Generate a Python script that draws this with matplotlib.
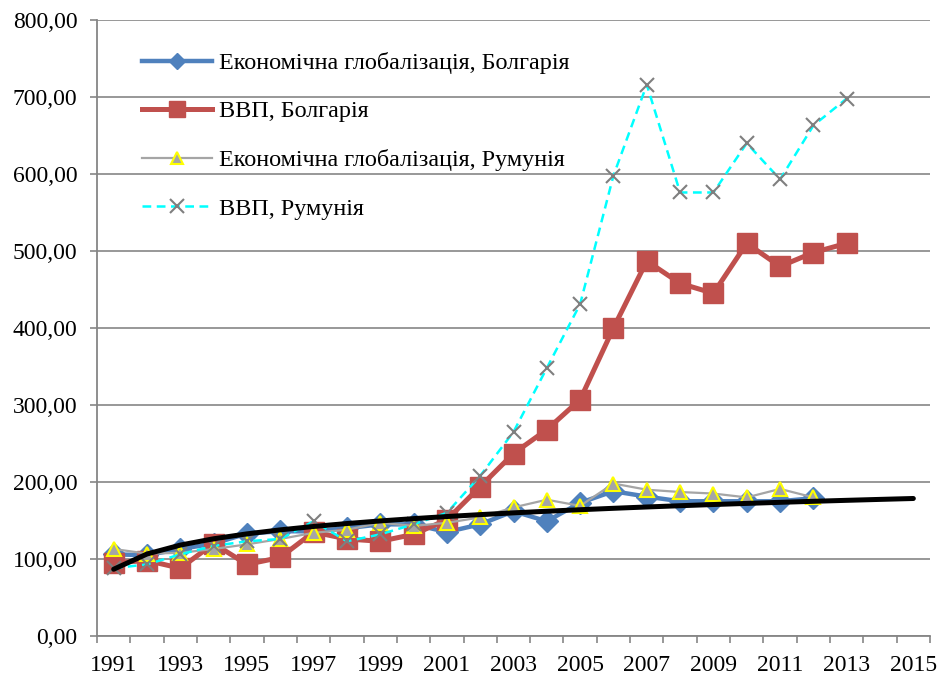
import numpy as np
import matplotlib
matplotlib.use("Agg")
import matplotlib.pyplot as plt
from matplotlib.lines import Line2D
from matplotlib.ticker import FuncFormatter, MultipleLocator, FixedLocator

plt.rcParams['font.family'] = ['Liberation Serif', 'DejaVu Serif']

years_gdp = list(range(1991, 2014))
years_glob = list(range(1991, 2013))
years_trend = list(range(1991, 2016))

bg_glob = [106, 105, 113, 120, 133, 136, 136, 140, 145, 145, 135, 145, 162, 149,
           173, 188, 181, 175, 175, 175, 175, 179]
bg_gdp = [95, 98, 88, 120, 93, 102, 135, 126, 123, 132, 151, 194, 237, 268,
          307, 400, 487, 458, 445, 510, 480, 498, 510]
ro_glob = [113, 107, 108, 113, 119, 126, 134, 138, 147, 143, 147, 154, 167, 177,
           169, 198, 190, 187, 185, 180, 191, 180]
ro_gdp = [88, 93, 106, 117, 123, 126, 149, 123, 132, 145, 160, 208, 265, 348,
          431, 598, 716, 576, 576, 640, 593, 663, 698]

labels = ["Економічна глобалізація, Болгарія", "ВВП, Болгарія",
          "Економічна глобалізація, Румунія", "ВВП, Румунія"]

C_BLUE = '#4f81bd'
C_RED = '#c0504d'
C_GRAY = '#a5a5a5'
C_CYAN = '#00ffff'
C_AX = '#868686'

fig = plt.figure(figsize=(9.39, 6.76), dpi=100)
ax = fig.add_axes([97/939, 1 - 636/676, (930-97)/939, (636-20)/676])

ax.plot(years_glob, bg_glob, color=C_BLUE, lw=3.2, marker='D', ms=11,
        mfc=C_BLUE, mec=C_BLUE, zorder=3)
ax.plot(years_gdp, bg_gdp, color=C_RED, lw=3.6, marker='s', ms=14,
        mfc=C_RED, mec=C_RED, zorder=4)
ax.plot(years_glob, ro_glob, color=C_GRAY, lw=1.6, marker='^', ms=10,
        mfc=C_GRAY, mec='#ffff00', mew=1.5, zorder=5)
ax.plot(years_gdp, ro_gdp, color=C_CYAN, lw=1.8, ls=(0, (3.5, 2.2)), marker='x', ms=10,
        mec='#7f7f7f', mew=1.5, zorder=6)

# logarithmic trendline fitted to Bulgaria economic globalization
t_fit = np.arange(1, len(bg_glob) + 1)
b, a = np.polyfit(np.log(t_fit), np.array(bg_glob, float), 1)
t_tr = np.arange(1, len(years_trend) + 1)
ax.plot(years_trend, a + b * np.log(t_tr), color='black', lw=3.6,
        solid_capstyle='round', zorder=7)

ax.set_xlim(1990.5, 2015.5)
ax.set_ylim(0, 800)
ax.yaxis.set_major_locator(MultipleLocator(100))
ax.yaxis.set_major_formatter(FuncFormatter(lambda v, p: f"{v:.2f}".replace('.', ',')))
ax.xaxis.set_major_locator(FixedLocator(list(range(1991, 2016, 2))))
ax.xaxis.set_minor_locator(FixedLocator([y + 0.5 for y in range(1990, 2016)]))
ax.xaxis.set_major_formatter(FuncFormatter(lambda v, p: f"{int(round(v))}"))

ax.grid(axis='y', color=C_AX, lw=1.2, zorder=0)
ax.set_axisbelow(True)
for s in ['top', 'right']:
    ax.spines[s].set_visible(False)
for s in ['left', 'bottom']:
    ax.spines[s].set_color(C_AX)
    ax.spines[s].set_linewidth(1.3)

ax.tick_params(axis='y', which='major', length=5, width=1.2, color=C_AX,
               labelsize=17, pad=9)
ax.tick_params(axis='x', which='major', length=0, labelsize=17, pad=14)
ax.tick_params(axis='x', which='minor', length=5, width=1.2, color=C_AX)

handles = [
    Line2D([], [], color=C_BLUE, lw=3.2, marker='D', ms=8, mfc=C_BLUE, mec=C_BLUE),
    Line2D([], [], color=C_RED, lw=3.6, marker='s', ms=11, mfc=C_RED, mec=C_RED),
    Line2D([], [], color=C_GRAY, lw=1.6, marker='^', ms=8, mfc=C_GRAY, mec='#ffff00', mew=1.5),
    Line2D([], [], color=C_CYAN, lw=1.8, ls=(0, (3.5, 2.2)), marker='x', ms=10,
           mec='#7f7f7f', mew=1.5),
]
leg = ax.legend(handles, labels, loc='upper left',
                bbox_to_anchor=(142/939, 1 - 52/676), bbox_transform=fig.transFigure,
                frameon=False, fontsize=17.4, handlelength=2.9, handletextpad=0.27,
                labelspacing=1.1, borderpad=0, borderaxespad=0)

fig.savefig("out.png", dpi=100)
